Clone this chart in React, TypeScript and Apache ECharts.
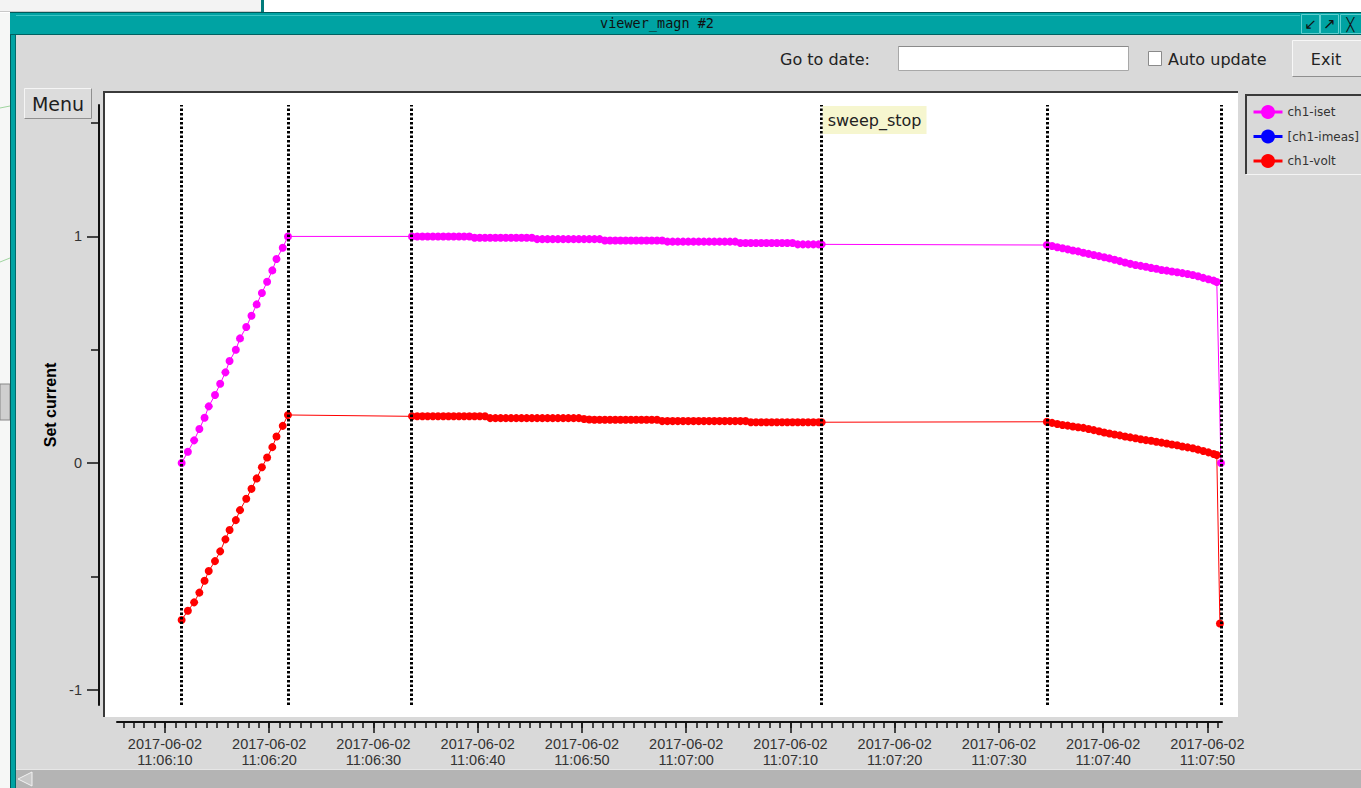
import React, { useEffect, useRef } from "react";
import * as echarts from "echarts";

// ---------- data ----------
const DATE = "2017-06-02";
const ORIGIN = "11:06:00"; // time offsets below are seconds after this

const xTickLabels = [
  "11:06:10", "11:06:20", "11:06:30", "11:06:40", "11:06:50", "11:07:00",
  "11:07:10", "11:07:20", "11:07:30", "11:07:40", "11:07:50",
];
const yTickValues = [-1, 0, 1];
const yMinorTickValues = [-0.5, 0.5, 1.5];

const eventTimes = [11.55, 21.8, 33.65, 73.0, 94.6, 111.3];
const eventNames = ["", "", "", "sweep_stop", "", ""];

// ramp
const rampTimes = [11.6, 12.2, 12.8, 13.3, 13.8, 14.2, 14.8, 15.3, 15.8, 16.2, 16.8,
  17.2, 17.8, 18.3, 18.8, 19.3, 19.8, 20.3, 20.7, 21.3, 21.8];
const isetRamp = [0, 0.05, 0.1, 0.15, 0.2, 0.25, 0.3, 0.35, 0.4, 0.45, 0.5,
  0.55, 0.6, 0.65, 0.7, 0.75, 0.8, 0.85, 0.9, 0.95, 1.0];
const voltRamp = [-0.693, -0.652, -0.615, -0.572, -0.52, -0.477, -0.433, -0.39, -0.337, -0.296, -0.252,
  -0.208, -0.158, -0.114, -0.068, -0.019, 0.024, 0.07, 0.117, 0.164, 0.212];

// plateau
const plateauTimes = [
  33.7, 34.2, 34.7, 35.2, 35.7, 36.2, 36.7, 37.2, 37.7, 38.2,
  38.7, 39.2, 39.7, 40.2, 40.7, 41.2, 41.7, 42.2, 42.7, 43.2,
  43.7, 44.2, 44.7, 45.2, 45.7, 46.2, 46.7, 47.2, 47.7, 48.2,
  48.7, 49.2, 49.7, 50.2, 50.7, 51.2, 51.7, 52.2, 52.7, 53.2,
  53.7, 54.2, 54.7, 55.2, 55.7, 56.2, 56.7, 57.2, 57.7, 58.2,
  58.7, 59.2, 59.7, 60.2, 60.7, 61.2, 61.7, 62.2, 62.7, 63.2,
  63.7, 64.2, 64.7, 65.2, 65.7, 66.2, 66.7, 67.2, 67.7, 68.2,
  68.7, 69.2, 69.7, 70.2, 70.7, 71.2, 71.7, 72.2, 72.7, 73.0,
];
const isetPlateau = [
  1.0, 1.0, 1.0, 1.0, 1.0, 1.0, 1.0, 1.0, 1.0, 1.0,
  1.0, 1.0, 0.994, 0.994, 0.994, 0.994, 0.994, 0.994, 0.994, 0.994,
  0.994, 0.994, 0.994, 0.994, 0.988, 0.988, 0.988, 0.988, 0.988, 0.988,
  0.988, 0.988, 0.988, 0.988, 0.988, 0.988, 0.988, 0.982, 0.982, 0.982,
  0.982, 0.982, 0.982, 0.982, 0.982, 0.982, 0.982, 0.982, 0.982, 0.977,
  0.977, 0.977, 0.977, 0.977, 0.977, 0.977, 0.977, 0.977, 0.977, 0.977,
  0.977, 0.977, 0.977, 0.971, 0.971, 0.971, 0.971, 0.971, 0.971, 0.971,
  0.971, 0.971, 0.971, 0.971, 0.965, 0.965, 0.965, 0.965, 0.965, 0.965,
];
const voltPlateau = [
  0.206, 0.206, 0.206, 0.206, 0.206, 0.206, 0.206, 0.206, 0.206, 0.206,
  0.206, 0.206, 0.206, 0.206, 0.206, 0.198, 0.198, 0.198, 0.198, 0.198,
  0.198, 0.198, 0.198, 0.198, 0.198, 0.198, 0.198, 0.198, 0.198, 0.198,
  0.198, 0.198, 0.198, 0.194, 0.192, 0.191, 0.191, 0.191, 0.191, 0.191,
  0.191, 0.191, 0.191, 0.191, 0.191, 0.191, 0.191, 0.191, 0.185, 0.185,
  0.185, 0.185, 0.185, 0.185, 0.185, 0.185, 0.185, 0.185, 0.185, 0.185,
  0.185, 0.185, 0.185, 0.185, 0.185, 0.18, 0.18, 0.18, 0.18, 0.18,
  0.18, 0.18, 0.18, 0.18, 0.18, 0.18, 0.18, 0.18, 0.18, 0.18,
];

// decay
const decayTimes = [
  94.6, 95.1, 95.6, 96.1, 96.6, 97.1, 97.6, 98.1, 98.6, 99.1,
  99.6, 100.1, 100.6, 101.1, 101.6, 102.1, 102.6, 103.1, 103.6, 104.1,
  104.6, 105.1, 105.6, 106.1, 106.6, 107.1, 107.6, 108.1, 108.6, 109.1,
  109.6, 110.1, 110.6, 110.9,
];
const isetDecay = [
  0.962, 0.958, 0.952, 0.948, 0.943, 0.938, 0.934, 0.928, 0.923, 0.918,
  0.913, 0.908, 0.903, 0.897, 0.891, 0.885, 0.879, 0.874, 0.87, 0.866,
  0.861, 0.857, 0.852, 0.849, 0.845, 0.842, 0.838, 0.834, 0.83, 0.824,
  0.817, 0.811, 0.805, 0.799,
];
const voltDecay = [
  0.182, 0.177, 0.172, 0.168, 0.165, 0.161, 0.158, 0.155, 0.15, 0.145,
  0.14, 0.135, 0.13, 0.126, 0.122, 0.117, 0.113, 0.109, 0.105, 0.101,
  0.098, 0.094, 0.09, 0.086, 0.082, 0.078, 0.073, 0.069, 0.065, 0.059,
  0.053, 0.047, 0.04, 0.035,
];

// final (after sweep end)
const isetFinalTime = 111.3;
const isetFinal = 0.0;
const voltFinalTime = 111.2;
const voltFinal = -0.708;

// ---------- helpers ----------
const toSec = (s: string) => {
  const [h, m, sec] = s.split(":").map(Number);
  return h * 3600 + m * 60 + sec;
};
const ORIGIN_SEC = toSec(ORIGIN);
const pad = (n: number) => (n < 10 ? "0" + n : "" + n);
const fmtTime = (off: number) => {
  const t = Math.round(ORIGIN_SEC + off);
  return `${DATE}\n${pad(Math.floor(t / 3600))}:${pad(Math.floor((t % 3600) / 60))}:${pad(t % 60)}`;
};

const zip = (ts: number[], vs: number[]) => ts.map((t, i) => [t, vs[i]]);

const X_MIN = 5.4;
const X_MAX = 111.4;
const Y_MIN = -1.068;
const Y_MAX = 1.58;

export default function App() {
  const ref = useRef<HTMLDivElement>(null);
  useEffect(() => {
    if (!ref.current) return;
    const chart = echarts.init(ref.current, null, { renderer: "svg" });

    const majorX = xTickLabels.map((s) => toSec(s) - ORIGIN_SEC);
    const minorX: number[] = [];
    for (let s = Math.ceil(X_MIN); s <= X_MAX; s++) minorX.push(s);

    const isetData = [
      ...zip(rampTimes, isetRamp),
      ...zip(plateauTimes, isetPlateau),
      ...zip(decayTimes, isetDecay),
      [isetFinalTime, isetFinal],
    ];
    const voltData = [
      ...zip(rampTimes, voltRamp),
      ...zip(plateauTimes, voltPlateau),
      ...zip(decayTimes, voltDecay),
      [voltFinalTime, voltFinal],
    ];

    const UI = '"DejaVu Sans", sans-serif';
    const rect = (x: number, y: number, w: number, h: number, fill: string, stroke?: string, lw = 1) => ({
      type: "rect", silent: true, shape: { x, y, width: w, height: h },
      style: { fill, stroke: stroke || null, lineWidth: lw },
    });
    const line = (x1: number, y1: number, x2: number, y2: number, stroke: string, lw = 1) => ({
      type: "line", silent: true, shape: { x1, y1, x2, y2 }, style: { stroke, lineWidth: lw },
    });
    const text = (x: number, y: number, t: string, font: string, fill = "#222", align = "left", va = "middle") => ({
      type: "text", silent: true, x, y, style: { text: t, font, fill, align, verticalAlign: va },
    });

    const graphics: any[] = [
      // outside / desktop
      rect(0, 0, 1361, 13, "#ffffff"),
      rect(0, 0, 262, 12, "#f3f3f3"),
      line(0, 11.5, 262, 11.5, "#c8c8c8"),
      rect(261, 0, 3, 12, "#007a7a"),
      rect(0, 13, 10, 775, "#f6f7f6"),
      rect(0, 384, 10, 36, "#cfcfcf", "#888"),
      line(0, 108, 10, 106, "#9fd49f"),
      line(0, 262, 10, 258, "#9fd49f"),
      // window frame
      rect(10, 12, 1351, 776, "#d9d9d9"),
      rect(10, 12, 6, 776, "#00a3a3"),
      line(10.5, 12, 10.5, 788, "#005a5a"),
      line(15.5, 35, 15.5, 788, "#006b6b"),
      rect(10, 12, 1351, 23, "#00a3a3"),
      line(10, 12.5, 1361, 12.5, "#005a5a"),
      line(16, 15.5, 1300, 15.5, "#3cc4c4"),
      line(10, 34.5, 1361, 34.5, "#006262"),
      text(657, 23, "viewer_magn #2", '13.5px "DejaVu Sans Mono", monospace', "#111", "center"),
      // title buttons
      rect(1301.5, 14.5, 18, 19, "#00a3a3", "#5fd0d0"),
      rect(1320.5, 14.5, 18, 19, "#00a3a3", "#5fd0d0"),
      rect(1340.5, 14.5, 22, 19, "#00a3a3", "#5fd0d0"),
      text(1310.5, 24, "↙", '15px "DejaVu Sans"', "#111", "center"),
      text(1329.5, 24, "↗", '15px "DejaVu Sans"', "#111", "center"),
      text(1350.5, 24, "╳", '13px "DejaVu Sans"', "#111", "center"),
      // toolbar
      text(780, 59, "Go to date:", `16px ${UI}`),
      rect(898.5, 46.5, 230, 24, "#ffffff", "#a8a8a8"),
      line(898.5, 46.5, 1128.5, 46.5, "#8a8a8a"),
      rect(1148.5, 51.5, 13, 14, "#ffffff", "#8a8a8a"),
      text(1168, 59, "Auto update", `16px ${UI}`),
      rect(1292.5, 40.5, 70, 36, "#e1e1e1", "#f7f7f7"),
      line(1292.5, 76.5, 1361, 76.5, "#8f8f8f"),
      text(1326, 59, "Exit", `16px ${UI}`, "#222", "center"),
      // menu button
      rect(24.5, 88.5, 67, 30, "#dcdcdc", "#f5f5f5"),
      line(24.5, 118.5, 91.5, 118.5, "#8f8f8f"),
      line(91.5, 88.5, 91.5, 118.5, "#8f8f8f"),
      text(58, 104, "Menu", `19px ${UI}`, "#1e1e1e", "center"),
      // plot area
      rect(103, 91, 1135, 626, "#ffffff"),
      line(103, 92, 1238, 92, "#3a3a3a", 2),
      line(104, 91, 104, 717, "#3a3a3a", 2),
      // legend panel
      line(1245, 95, 1361, 95, "#3a3a3a", 2),
      line(1246, 95, 1246, 174, "#3a3a3a", 2),
      line(1246, 174.5, 1361, 174.5, "#f4f4f4"),
      // scrollbar
      rect(16, 770, 1345, 18, "#b4b4b4"),
      line(16, 769.5, 1361, 769.5, "#e6e6e6"),
      {
        type: "polygon", silent: true,
        shape: { points: [[32, 772], [32, 786], [18, 779]] },
        style: { fill: "#c9c9c9", stroke: "#f2f2f2", lineWidth: 1 },
      },
    ];

    const labelFont = '"Liberation Sans", Arial, sans-serif';

    chart.setOption({
      animation: false,
      backgroundColor: "#d9d9d9",
      graphic: { elements: graphics },
      grid: { left: 117, right: 139, top: 105, bottom: 83, containLabel: false },
      legend: {
        data: ["ch1-iset", "[ch1-imeas]", "ch1-volt"],
        orient: "vertical",
        left: 1252,
        top: 105,
        padding: 0,
        itemWidth: 29,
        itemHeight: 17.5,
        itemGap: 10.5,
        selectedMode: false,
        lineStyle: { width: 3 },
        textStyle: { fontFamily: UI, fontSize: 12, color: "#333" },
      },
      xAxis: [
        {
          type: "value", min: X_MIN, max: X_MAX, position: "bottom", offset: 17,
          axisLine: { show: true, onZero: false, lineStyle: { color: "#111", width: 2 } },
          axisTick: { show: true, customValues: majorX, length: 11, lineStyle: { color: "#111", width: 1.5 } },
          axisLabel: {
            customValues: majorX, formatter: (v: number) => fmtTime(v),
            fontFamily: labelFont, fontSize: 14.5, lineHeight: 16, color: "#333", margin: 14,
          },
          splitLine: { show: false },
        },
        {
          type: "value", min: X_MIN, max: X_MAX, position: "bottom", offset: 17,
          axisLine: { show: false, onZero: false },
          axisTick: { show: true, customValues: minorX, length: 6, lineStyle: { color: "#111", width: 1.5 } },
          axisLabel: { show: false },
          splitLine: { show: false },
        },
      ],
      yAxis: [
        {
          type: "value", min: Y_MIN, max: Y_MAX, position: "left", offset: 18,
          name: "Set current", nameLocation: "middle", nameRotate: 90, nameGap: 40,
          nameTextStyle: { fontFamily: labelFont, fontWeight: "bold", fontSize: 16, color: "#000" },
          axisLine: { show: true, onZero: false, lineStyle: { color: "#111", width: 2 } },
          axisTick: { show: true, customValues: yTickValues, length: 12, lineStyle: { color: "#111", width: 1.5 } },
          axisLabel: { customValues: yTickValues, fontFamily: labelFont, fontSize: 14.5, color: "#333", margin: 17 },
          splitLine: { show: false },
        },
        {
          type: "value", min: Y_MIN, max: Y_MAX, position: "left", offset: 18,
          axisLine: { show: false, onZero: false },
          axisTick: { show: true, customValues: yMinorTickValues, length: 8, lineStyle: { color: "#111", width: 1.5 } },
          axisLabel: { show: false },
          splitLine: { show: false },
        },
      ],
      series: [
        {
          name: "events", type: "line", data: [], z: 1, silent: true,
          markLine: {
            silent: true, symbol: ["none", "none"], animation: false,
            label: { show: false },
            lineStyle: { color: "#000", width: 3, type: [2.5, 2] },
            data: eventTimes.map((t) => ({ xAxis: t })),
          },
          markPoint: {
            silent: true, z: 6, animation: false,
            data: eventTimes
              .map((t, i) => ({ t, n: eventNames[i] }))
              .filter((e) => e.n)
              .map((e) => ({
                coord: [e.t, Y_MAX], symbol: "rect", symbolSize: 0, name: e.n,
                label: {
                  show: true, formatter: e.n, position: [0, 0], offset: [1, 1],
                  align: "left", verticalAlign: "top",
                  backgroundColor: "#f6f6cf", padding: [6, 5, 6, 5],
                  fontFamily: UI, fontSize: 16, color: "#222",
                },
              })),
          },
        },
        {
          name: "ch1-iset", type: "line", data: isetData, z: 3,
          symbol: "circle", symbolSize: 8, showSymbol: true, showAllSymbol: true,
          color: "#ff00ff", itemStyle: { color: "#ff00ff" }, lineStyle: { width: 1, color: "#ff00ff" },
          emphasis: { disabled: true },
        },
        {
          name: "[ch1-imeas]", type: "line", data: [], z: 3,
          symbol: "circle", symbolSize: 8,
          color: "#0000ff", itemStyle: { color: "#0000ff" }, lineStyle: { width: 1, color: "#0000ff" },
        },
        {
          name: "ch1-volt", type: "line", data: voltData, z: 3,
          symbol: "circle", symbolSize: 8, showSymbol: true, showAllSymbol: true,
          color: "#ff0000", itemStyle: { color: "#ff0000" }, lineStyle: { width: 1, color: "#ff0000" },
          emphasis: { disabled: true },
        },
      ],
    });
    return () => chart.dispose();
  }, []);

  return (
    <>
      <style>{`html,body{margin:0;padding:0;overflow:hidden;background:#d9d9d9}`}</style>
      <div ref={ref} style={{ width: 1361, height: 788 }} />
    </>
  );
}
